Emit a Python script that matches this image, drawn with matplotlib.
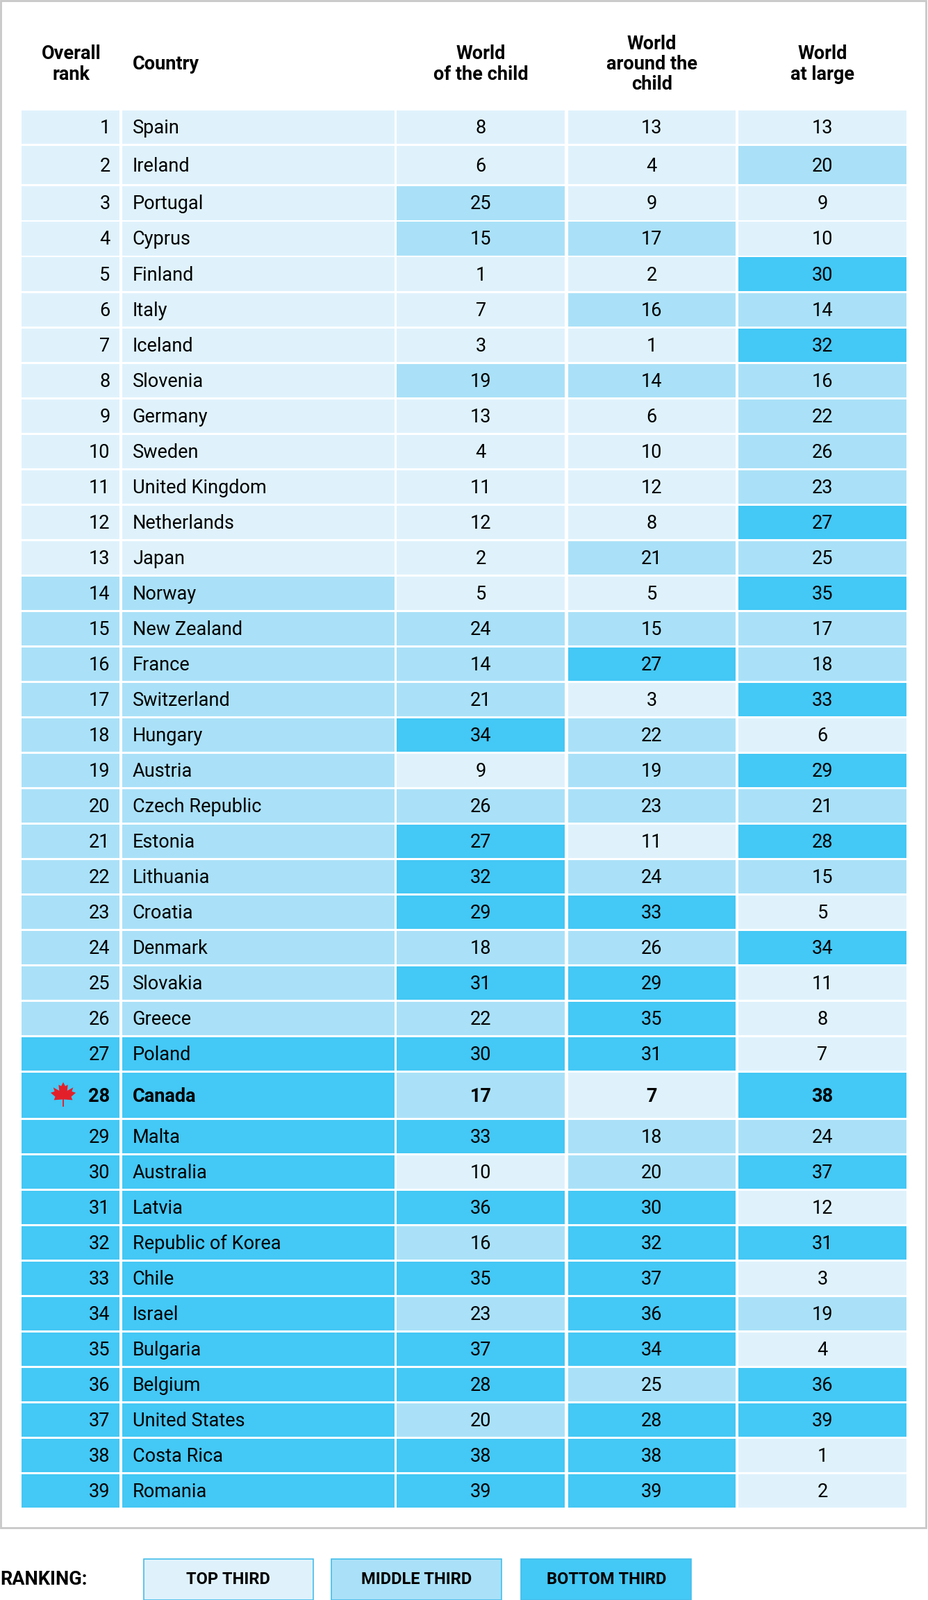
import matplotlib
matplotlib.use("Agg")
import matplotlib.pyplot as plt
from matplotlib.patches import Rectangle, Polygon

countries = ["Spain","Ireland","Portugal","Cyprus","Finland","Italy","Iceland","Slovenia","Germany","Sweden",
 "United Kingdom","Netherlands","Japan","Norway","New Zealand","France","Switzerland","Hungary","Austria",
 "Czech Republic","Estonia","Lithuania","Croatia","Denmark","Slovakia","Greece","Poland","Canada","Malta",
 "Australia","Latvia","Republic of Korea","Chile","Israel","Bulgaria","Belgium","United States","Costa Rica","Romania"]
overall = list(range(1, 40))
world_child = [8,6,25,15,1,7,3,19,13,4,11,12,2,5,24,14,21,34,9,26,27,32,29,18,31,22,30,17,33,10,36,16,35,23,37,28,20,38,39]
world_around = [13,4,9,17,2,16,1,14,6,10,12,8,21,5,15,27,3,22,19,23,11,24,33,26,29,35,31,7,18,20,30,32,37,36,34,25,28,38,39]
world_large = [13,20,9,10,30,14,32,16,22,26,23,27,25,35,17,18,33,6,29,21,28,15,5,34,11,8,7,38,24,37,12,31,3,19,4,36,39,1,2]
headers = ["Overall\nrank", "Country", "World\nof the child", "World\naround the\nchild", "World\nat large"]
legend_labels = ["TOP THIRD", "MIDDLE THIRD", "BOTTOM THIRD"]

C_TOP, C_MID, C_BOT = "#dff2fc", "#aae1f8", "#44c8f5"
def col(r):
    return C_TOP if r <= 13 else (C_MID if r <= 26 else C_BOT)

W, H = 910, 1568
fig = plt.figure(figsize=(13.36, 23.03), dpi=100)
ax = fig.add_axes([0, 0, 1, 1])
ax.set_xlim(0, W); ax.set_ylim(H, 0); ax.axis("off")
FS = 19.5
font = "Roboto"

ax.add_patch(Rectangle((0.5, 0.5), 907.5, 1496.5, fill=False, ec="#c8c8c8", lw=2))

cols = [(20, 118), (119, 388), (388, 555), (556, 722), (723, 890)]
# headers
ax.text(70, 63, headers[0], ha="center", va="center", fontsize=FS, fontweight="bold", family=font, linespacing=1.1)
ax.text(130, 63, headers[1], ha="left", va="center", fontsize=FS, fontweight="bold", family=font)
for i in range(2, 5):
    cx = (cols[i][0] + cols[i][1]) / 2
    ax.text(cx, 63, headers[i], ha="center", va="center", fontsize=FS, fontweight="bold", family=font, linespacing=1.1)

y = 107.0
for i, name in enumerate(countries):
    h = 40 if i == 1 else (46 if name == "Canada" else 34.75)
    bold = "bold" if name == "Canada" else "normal"
    ranks = [overall[i], overall[i], world_child[i], world_around[i], world_large[i]]
    for j, (x0, x1) in enumerate(cols):
        ax.add_patch(Rectangle((x0 + 1, y + 1), x1 - x0 - 2, h - 2, color=col(ranks[j]), lw=0))
    cy = y + h / 2 + 1
    ax.text(108, cy, str(overall[i]), ha="right", va="center", fontsize=FS, family=font, fontweight=bold)
    ax.text(130, cy, name, ha="left", va="center", fontsize=FS, family=font, fontweight=bold)
    for j, v in zip(range(2, 5), ranks[2:]):
        cx = (cols[j][0] + cols[j][1]) / 2
        ax.text(cx, cy, str(v), ha="center", va="center", fontsize=FS, family=font, fontweight=bold)
    if name == "Canada":
        lx, ly, s = 62, cy - 1, 13
        pts = [(0,-1),(0.15,-0.7),(0.35,-0.8),(0.3,-0.35),(0.75,-0.6),(0.65,-0.3),(0.95,-0.2),
               (0.6,0.1),(0.7,0.35),(0.05,0.3),(0.05,0.85),(-0.05,0.85),(-0.05,0.3),(-0.7,0.35),
               (-0.6,0.1),(-0.95,-0.2),(-0.65,-0.3),(-0.75,-0.6),(-0.3,-0.35),(-0.35,-0.8),(-0.15,-0.7)]
        ax.add_patch(Polygon([(lx + px * s, ly + py * s) for px, py in pts], color="#e3202a", lw=0))
    y += h

# legend
ax.text(0, 1548, "RANKING:", ha="left", va="center", fontsize=FS, fontweight="bold", family=font)
lboxes = [(141, 307), (325, 492), (511, 678)]
for (x0, x1), lab, c in zip(lboxes, legend_labels, [C_TOP, C_MID, C_BOT]):
    ax.add_patch(Rectangle((x0, 1528), x1 - x0, 40, fc=c, ec="#44bdea", lw=1.2))
    ax.text((x0 + x1) / 2, 1548, lab, ha="center", va="center", fontsize=17, fontweight="bold", family=font)

fig.savefig("out.png", dpi=100)
